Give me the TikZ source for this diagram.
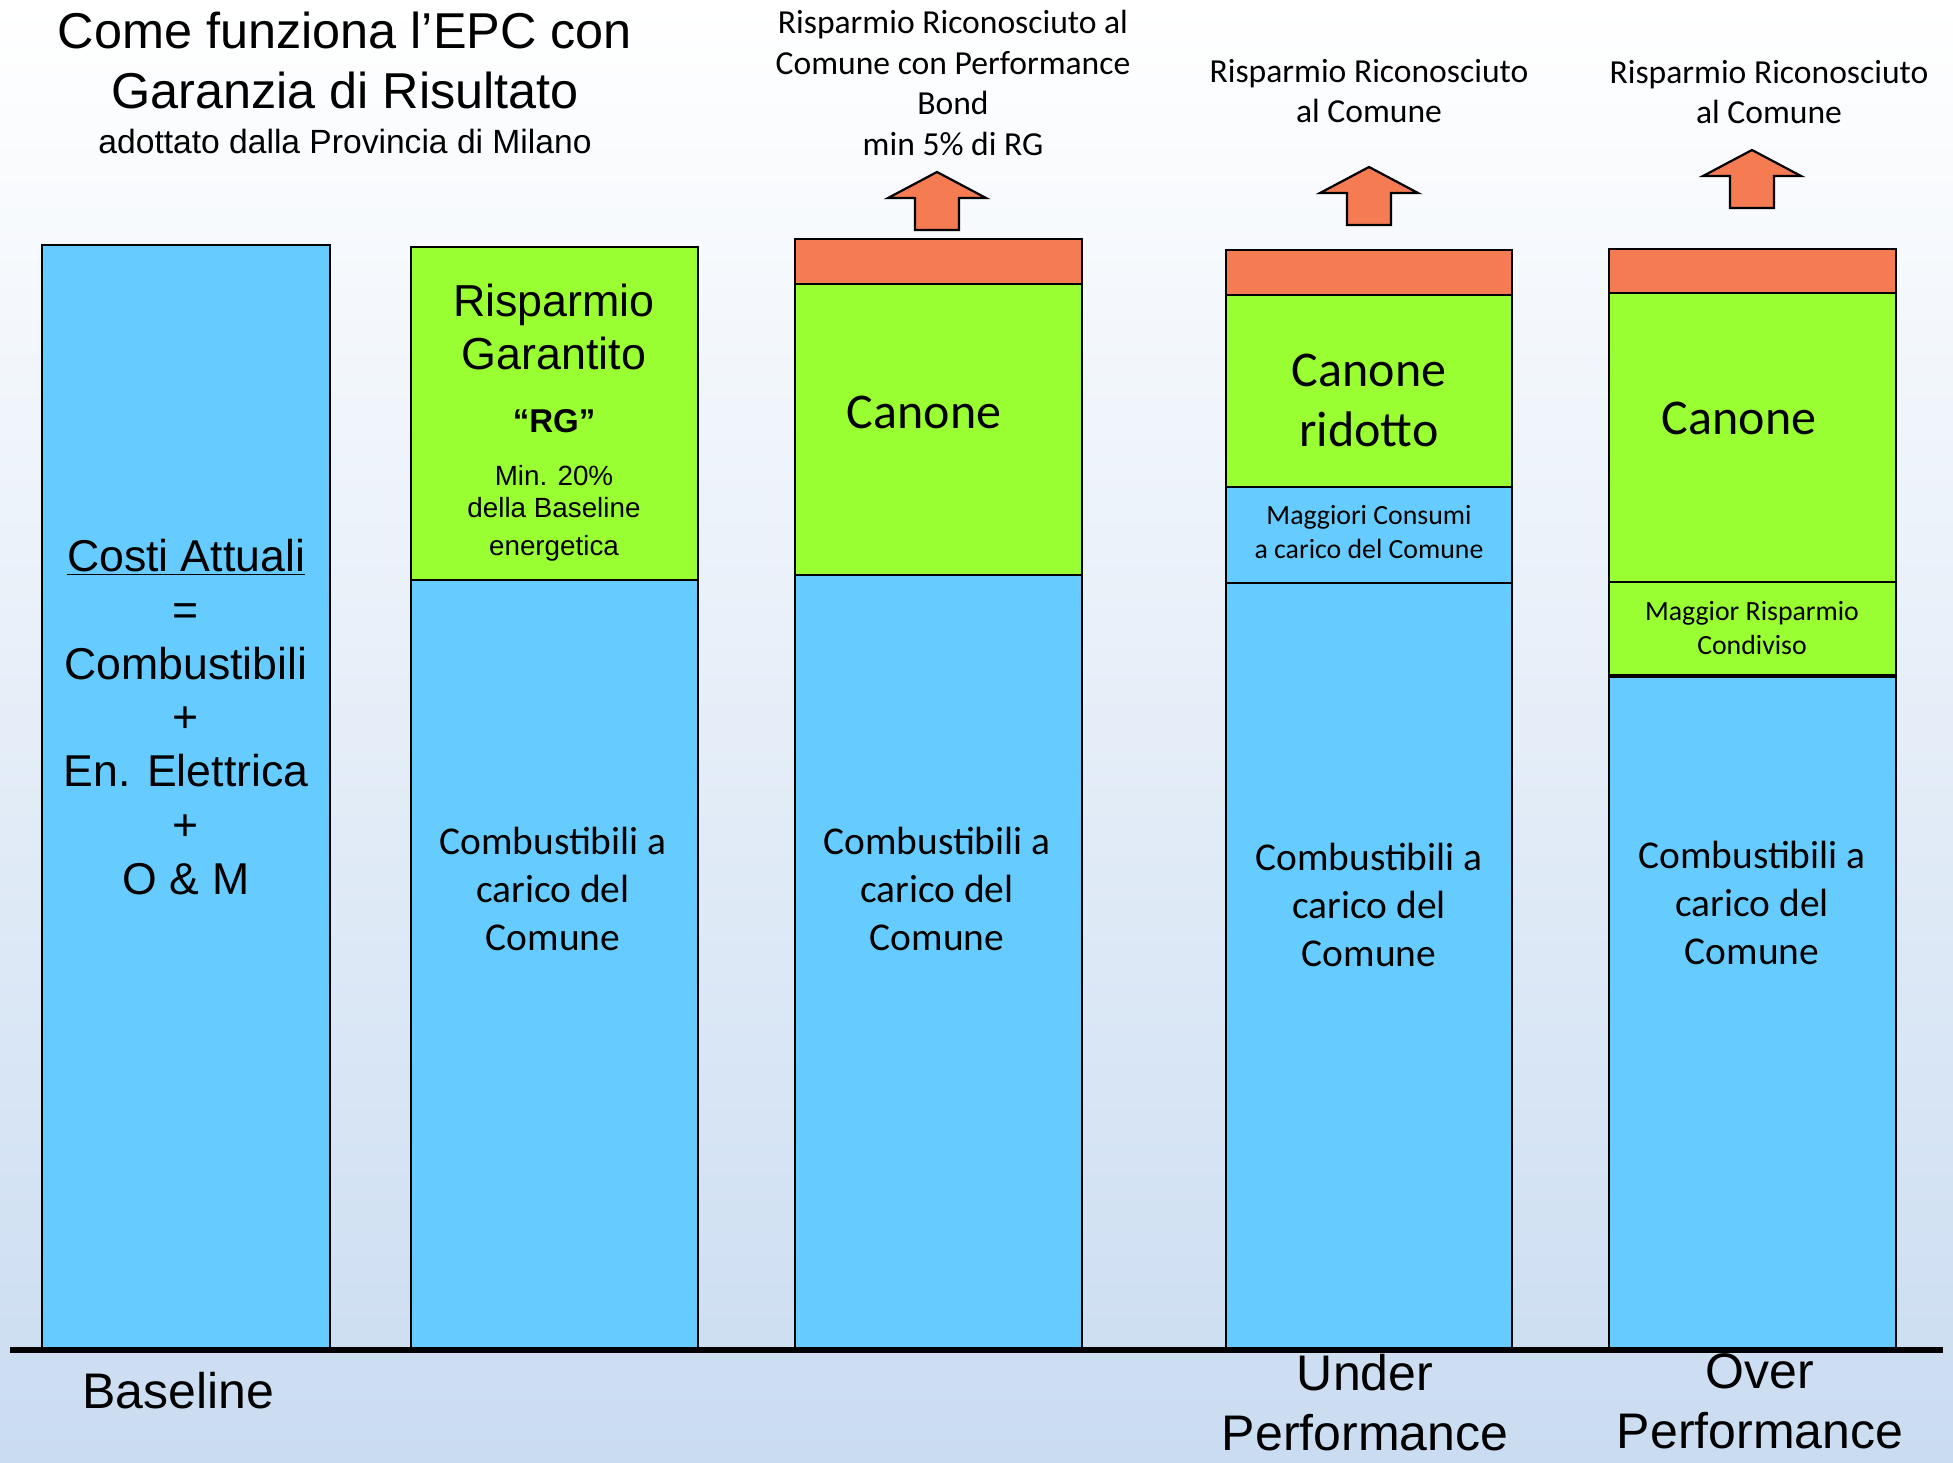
\documentclass[tikz,border=0pt]{standalone}
\usepackage{fontspec}
\setmainfont{Liberation Sans}
\newfontfamily\calib{Carlito}
\definecolor{cblue}{RGB}{102,204,255}
\definecolor{cgreen}{RGB}{153,255,51}
\definecolor{corange}{RGB}{244,123,82}
\definecolor{bgbot}{RGB}{202,220,241}
\newcommand\fsz[2]{\fontsize{#1pt}{#2pt}\selectfont}
\begin{document}
\begin{tikzpicture}[x=0.5pt,y=-0.5pt,
  bar/.style={draw=black,line width=1.1pt},
  txt/.style={inner sep=0pt,align=center,text=black},
  uparrow/.style={draw=black,line width=1.1pt,fill=corange,line join=miter},
  ]
\shade[top color=white,bottom color=bgbot] (0,0) rectangle (1953,1462);
\useasboundingbox (0,0) rectangle (1953,1462);

% column 1 (Baseline)
\draw[bar,fill=cblue] (42,245) rectangle (330,1349);
% column 2
\draw[bar,fill=cgreen] (411,247) rectangle (698,580);
\draw[bar,fill=cblue] (411,580) rectangle (698,1349);
% column 3
\draw[bar,fill=corange] (795,239) rectangle (1082,284);
\draw[bar,fill=cgreen] (795,284) rectangle (1082,575);
\draw[bar,fill=cblue] (795,575) rectangle (1082,1349);
% column 4
\draw[bar,fill=corange] (1226,250) rectangle (1512,295);
\draw[bar,fill=cgreen] (1226,295) rectangle (1512,487);
\draw[bar,fill=cblue] (1226,487) rectangle (1512,583);
\draw[bar,fill=cblue] (1226,583) rectangle (1512,1349);
% column 5
\draw[bar,fill=corange] (1609,249) rectangle (1896,293);
\draw[bar,fill=cgreen] (1609,293) rectangle (1896,582);
\draw[bar,fill=cgreen] (1609,582) rectangle (1896,675);
\draw[bar,fill=cblue] (1609,677) rectangle (1896,1349);
\draw[line width=1.1pt] (1609,675) -- (1896,675);

% ground line
\draw[line width=2.6pt] (10,1350) -- (1943,1350);

% arrows
\draw[uparrow] (937,172) -- (986,198) -- (959,198) -- (959,230) -- (915,230) -- (915,198) -- (888,198) -- cycle;
\draw[uparrow] (1369,167) -- (1418,193) -- (1391,193) -- (1391,225) -- (1347,225) -- (1347,193) -- (1320,193) -- cycle;
\draw[uparrow] (1752,150) -- (1801,176) -- (1774,176) -- (1774,208) -- (1730,208) -- (1730,176) -- (1703,176) -- cycle;

% title
\node[txt,font=\fsz{25.2}{30}] (title) at (345,60) {Come funziona l’EPC con\\Garanzia di Risultato};
\node[txt,font=\fsz{16.8}{20}] (subtitle) at (345,141) {adottato dalla Provincia di Milano};

% column 1 text
\node[txt,font=\fsz{22.3}{26.9}] (c1txt) at (186,717) {\underline{Costi Attuali}\\=\\Combustibili\\+\\En. Elettrica\\+\\O \& M};

% column 2 text
\node[txt,font=\fsz{22.4}{26.9}] (rg) at (554,327) {Risparmio\\Garantito};
\node[txt,font=\fsz{16.5}{20}\bfseries] (rgq) at (554,421) {“RG”};
\node[txt,font=\fsz{13.9}{16}] (min20) at (554,476) {Min. 20\%};
\node[txt,font=\fsz{13.9}{16}] (dellab) at (554,508) {della Baseline};
\node[txt,font=\fsz{13.9}{16}] (energ) at (554,548) {energetica};
\node[txt,font=\calib\fsz{19.7}{24.1}] (comb2) at (553,889) {Combustibili a\\carico del\\Comune};

% column 3 text
\node[txt,font=\calib\fsz{25}{30}] (can3) at (924,412) {Canone};
\node[txt,font=\calib\fsz{19.7}{24.1}] (comb3) at (937,889) {Combustibili a\\carico del\\Comune};
\node[txt,font=\calib\fsz{16.8}{20.2}] (lab3) at (953,83) {Risparmio Riconosciuto al\\Comune con Performance\\Bond\\min 5\% di RG};

% column 4 text
\node[txt,font=\calib\fsz{25}{30}] (can4) at (1369,400) {Canone\\ridotto};
\node[txt,font=\calib\fsz{13.9}{16.8}] (magg4) at (1369,532) {Maggiori Consumi\\a carico del Comune};
\node[txt,font=\calib\fsz{19.7}{24.1}] (comb4) at (1369,905) {Combustibili a\\carico del\\Comune};
\node[txt,font=\calib\fsz{16.8}{20.2}] (lab4) at (1369,91) {Risparmio Riconosciuto\\al Comune};

% column 5 text
\node[txt,font=\calib\fsz{25}{30}] (can5) at (1739,418) {Canone};
\node[txt,font=\calib\fsz{13.9}{16.8}] (magg5) at (1752,628) {Maggior Risparmio\\Condiviso};
\node[txt,font=\calib\fsz{19.7}{24.1}] (comb5) at (1752,903) {Combustibili a\\carico del\\Comune};
\node[txt,font=\calib\fsz{16.8}{20.2}] (lab5) at (1769,92) {Risparmio Riconosciuto\\al Comune};

% bottom labels
\node[txt,font=\fsz{25}{31}] (bl) at (178,1391) {Baseline};
\node[txt,font=\fsz{25}{30}] (under) at (1365,1403) {Under\\Performance};
\node[txt,font=\fsz{25}{30}] (over) at (1760,1401) {Over\\Performance};
\end{tikzpicture}
\end{document}
